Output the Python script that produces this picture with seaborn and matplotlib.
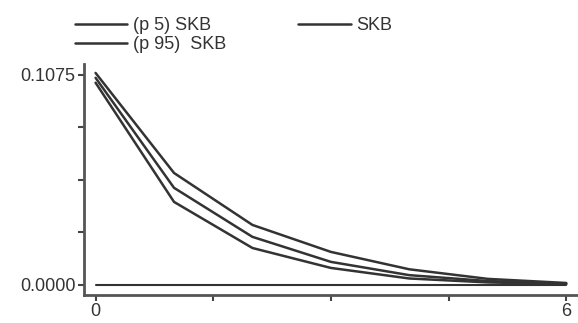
import numpy as np
import pandas as pd
import seaborn as sns
from matplotlib import pyplot as plt

# Datos
anios = [0, 1, 2, 3, 4, 5, 6]
p5_skb = [0.1035, 0.0425, 0.0189, 0.0087, 0.0033, 0.0013, 0.0004]
skb = [0.1060, 0.0497, 0.0246, 0.0118, 0.0050, 0.0020, 0.0006]
p95_skb = [0.1085, 0.0573, 0.0307, 0.0169, 0.0080, 0.0031, 0.0010]
linea_cero = [0, 0, 0, 0, 0, 0, 0]
series = ["(p 5) SKB", "(p 95)  SKB", "SKB"]

datos = pd.DataFrame({
    "x": anios * 3,
    "y": p5_skb + p95_skb + skb,
    "serie": [series[0]] * 7 + [series[1]] * 7 + [series[2]] * 7,
})

sns.set_style("ticks")
plt.rcParams["font.family"] = ["Liberation Sans", "DejaVu Sans"]

fig = plt.figure(figsize=(5.78, 3.23), dpi=100)
ax = fig.add_axes([0.145, 0.087, 0.855, 0.715])

gris = "#333333"
sns.lineplot(data=datos, x="x", y="y", hue="serie", hue_order=series,
             palette=[gris, gris, gris], linewidth=1.8, ax=ax, legend=False)
# linea horizontal en cero
ax.plot(anios, linea_cero, color=gris, linewidth=1.5)

ax.set_xlim(-0.15, 6.15)
ax.set_ylim(-0.0051, 0.1131)
ax.set_xticks([0, 1.5, 3, 4.5, 6])
ax.set_xticklabels(["0", "", "", "", "6"])
ax.set_yticks([0, 0.026875, 0.05375, 0.080625, 0.1075])
ax.set_yticklabels(["0.0000", "", "", "", "0.1075"])
ax.set_xlabel("")
ax.set_ylabel("")
ax.tick_params(labelsize=13, length=4, width=1.5, color="#444444",
               labelcolor="#333333", pad=2)
for lado in ["top", "right"]:
    ax.spines[lado].set_visible(False)
for lado in ["left", "bottom"]:
    ax.spines[lado].set_linewidth(2)
    ax.spines[lado].set_color("#555555")

# Leyenda arriba
manejadores = [plt.Line2D([], [], color=gris, linewidth=1.8) for _ in series]
fig.legend(manejadores, series, loc="upper left", ncol=2,
           bbox_to_anchor=(75 / 578, 1 - 17 / 323), frameon=False,
           fontsize=13, handlelength=2.9, handletextpad=0.3,
           columnspacing=4.0, labelspacing=0.12, borderpad=0,
           borderaxespad=0, labelcolor="#333333")

fig.savefig("out.png", dpi=100)
